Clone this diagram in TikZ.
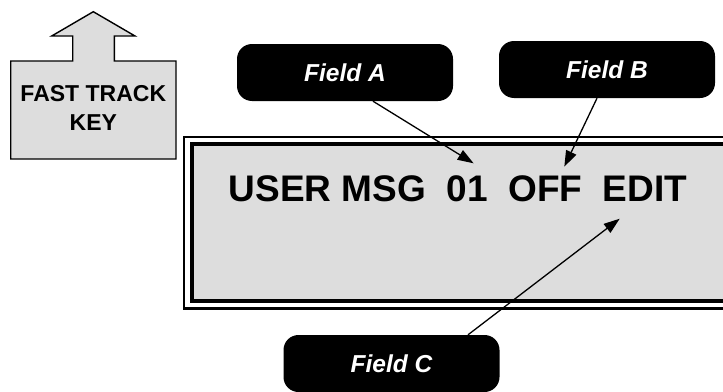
\documentclass[tikz,border=0pt]{standalone}
\usepackage{fontspec}
\setmainfont{Liberation Sans}
\usetikzlibrary{arrows.meta}
\definecolor{panelgray}{RGB}{221,221,221}
\tikzset{
  fieldbox/.style={fill=black, rounded corners=15pt, minimum width=216pt, minimum height=57pt,
    inner sep=0pt, text=white, font=\fontsize{24.5}{28}\selectfont\bfseries\itshape},
  pointer/.style={line width=1.3pt, -{Triangle[length=16pt,width=11pt]}},
}
\begin{document}
\begin{tikzpicture}[x=1pt,y=-1pt]
\useasboundingbox (0,0) rectangle (723,391);
% Fast track key
\draw[fill=panelgray, line width=1.4pt, line join=miter]
  (10.7,61) -- (72.7,61) -- (72.7,36) -- (51.7,36) -- (93.3,11.7) -- (135,36)
  -- (114.3,36) -- (114.3,61) -- (176,61) -- (176,159) -- (10.7,159) -- cycle;
\node[align=center, inner sep=0pt, font=\fontsize{23}{29}\selectfont\bfseries] (fk) at (93.3,108) {FAST TRACK\\KEY};
% Display frame
\draw[line width=2.5pt] (184,137) rectangle (760,308.5);
\draw[line width=3.5pt, fill=panelgray] (192,144) rectangle (760,301);
\node[anchor=base west, inner sep=0pt, font=\fontsize{37}{40}\selectfont\bfseries] (msg) at (228.5,201.7) {USER MSG\ \ 01\ \ OFF\ \ EDIT};
% Field labels
\node[fieldbox] (fa) at (345,72.5) {Field A};
\node[fieldbox] (fb) at (607,69.5) {Field B};
\node[fieldbox] (fc) at (391.5,363.5) {Field C};
% Arrow tips
\coordinate (ta) at (473.6,163.3);
\coordinate (tb) at (564.3,166.7);
\coordinate (tc) at (619.7,218.7);
\draw[pointer] ([xshift=28pt]fa.south) -- (ta);
\draw[pointer] ([xshift=-10pt]fb.south) -- (tb);
\draw[pointer] ([xshift=76.5pt]fc.north) -- (tc);
\end{tikzpicture}
\end{document}
